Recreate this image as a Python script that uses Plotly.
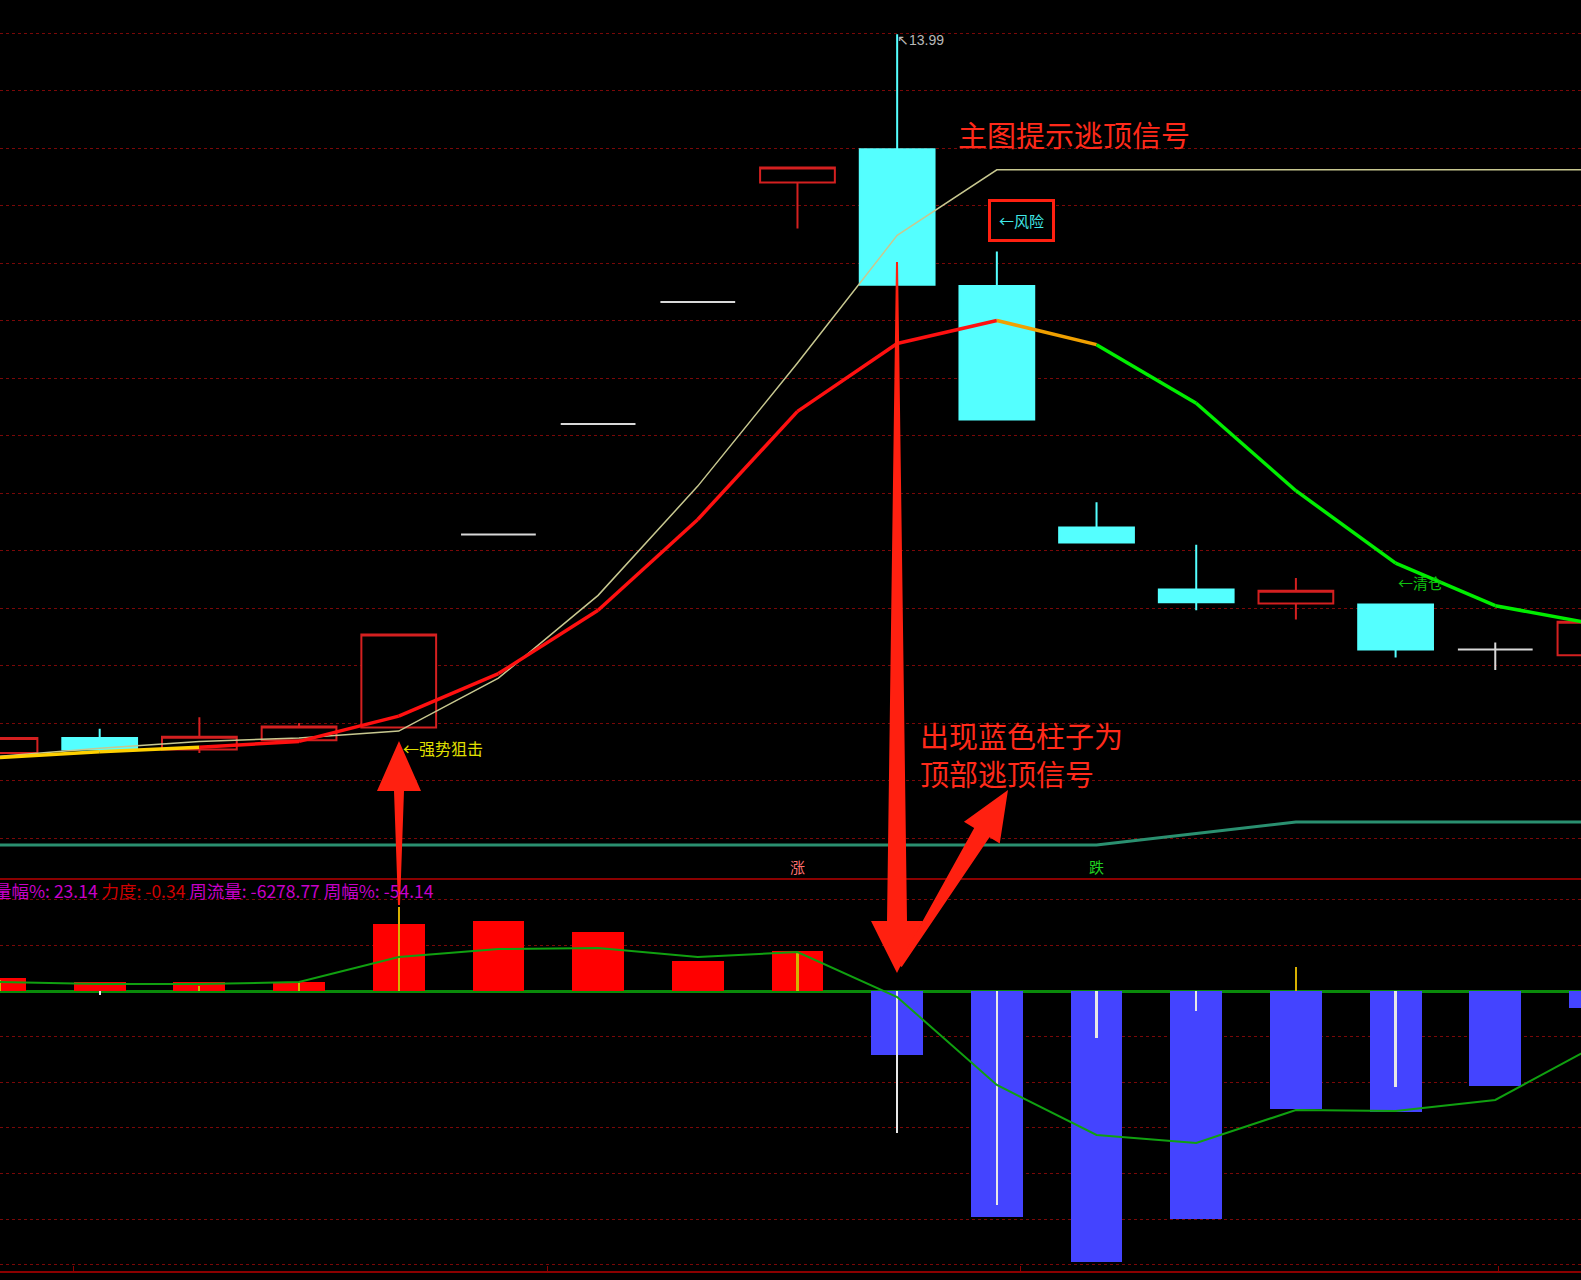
import math
import plotly.graph_objects as go

# K-line data (index = bar number, price units)
bar_idx = list(range(17))
opens = [7.74, 7.87, 7.77, 7.85, 7.96, 9.64, 10.60, 11.66, 12.70, 12.99, 11.80, 9.70, 9.16, 9.04, 9.03, 8.64, 8.59]
highs = [7.87, 7.95, 8.05, 8.00, 8.77, 9.64, 10.60, 11.66, 12.83, 13.99, 12.10, 9.92, 9.55, 9.26, 9.04, 8.70, 8.88]
lows = [7.74, 7.75, 7.74, 7.85, 7.96, 9.64, 10.60, 11.66, 12.30, 11.81, 10.64, 9.57, 8.98, 8.90, 8.57, 8.46, 8.59]
closes = [7.87, 7.77, 7.88, 7.97, 8.77, 9.64, 10.60, 11.66, 12.83, 11.81, 10.64, 9.57, 9.05, 9.15, 8.64, 8.64, 8.88]

# indicator lines on the main chart
trend_line = [7.70, 7.75, 7.79, 7.84, 8.06, 8.43, 8.98, 9.77, 10.71, 11.30, 11.50, 11.29, 10.78, 10.02, 9.39, 9.02, 8.86]
trend_colors = ["#ffd000", "#ffd000", "#ff1010", "#ff1010", "#ff1010", "#ff1010", "#ff1010", "#ff1010",
                "#ff1010", "#ff1010", "#f0a000", "#00ee00", "#00ee00", "#00ee00", "#00ee00", "#00ee00"]
slow_line = [7.71, 7.78, 7.84, 7.87, 7.93, 8.39, 9.11, 10.06, 11.13, 12.24, 12.81, 12.81, 12.81, 12.81, 12.81, 12.81, 12.81]
base_line = [6.94, 6.94, 6.94, 6.94, 6.94, 6.94, 6.94, 6.94, 6.94, 6.94, 6.94, 6.94, 7.04, 7.14, 7.14, 7.14, 7.14]

# sub chart (flow)
flow_bars = [285, 197, 197, 197, 1469, 1535, 1294, 658, 877, -1404, -4956, -5943, -5000, -2588, -2654, -2083, -373]
flow_ticks = [240, -90, 100, 200, 1842, 0, 0, 0, 855, -3114, -4693, -1031, -439, 526, -2105, 0, 0]
flow_ma = [197, 153, 153, 197, 746, 921, 943, 746, 855, -132, -2061, -3158, -3333, -2610, -2632, -2390, -1206]

W, H = 1581, 1280
GRID = "#7a0808"
CJK = "Noto Sans CJK SC"


def paper(x, y):
    return x / W, 1 - y / H


def arrow_path(x0, y0, x1, y1, w0, w1, hw, hl):
    """Tapered arrow polygon, pixel coords in, paper path out."""
    L = math.hypot(x1 - x0, y1 - y0)
    ux, uy = (x1 - x0) / L, (y1 - y0) / L
    nx, ny = -uy, ux
    bx, by = x1 - ux * hl, y1 - uy * hl
    pts = [
        (x0 + nx * w0, y0 + ny * w0), (bx + nx * w1, by + ny * w1), (bx + nx * hw, by + ny * hw),
        (x1, y1),
        (bx - nx * hw, by - ny * hw), (bx - nx * w1, by - ny * w1), (x0 - nx * w0, y0 - ny * w0),
    ]
    pp = [paper(x, y) for x, y in pts]
    return "M " + " L ".join(f"{a:.5f},{b:.5f}" for a, b in pp) + " Z"


def pick(cond):
    sel = [i for i in bar_idx if cond(i)]
    return dict(x=sel, open=[opens[i] for i in sel], high=[highs[i] for i in sel],
                low=[lows[i] for i in sel], close=[closes[i] for i in sel])


fig = go.Figure()

# candles: up hollow red, down cyan, flat white
for cond, col, fill in [
    (lambda i: closes[i] > opens[i], "#d42020", "#000000"),
    (lambda i: closes[i] < opens[i], "#54ffff", "#54ffff"),
    (lambda i: closes[i] == opens[i], "#d8d8d8", "#d8d8d8"),
]:
    d = pick(cond)
    fig.add_trace(go.Candlestick(
        **d, xaxis="x", yaxis="y",
        increasing=dict(line=dict(color=col, width=2), fillcolor=fill),
        decreasing=dict(line=dict(color=col, width=2), fillcolor=fill),
        whiskerwidth=0, hoverinfo="skip",
    ))

fig.add_trace(go.Scatter(x=bar_idx, y=slow_line, mode="lines", line=dict(color="#c8c890", width=1.5),
                         xaxis="x", yaxis="y", hoverinfo="skip"))
for k in range(len(bar_idx) - 1):
    fig.add_trace(go.Scatter(x=bar_idx[k:k + 2], y=trend_line[k:k + 2], mode="lines",
                             line=dict(color=trend_colors[k], width=3.5), xaxis="x", yaxis="y",
                             hoverinfo="skip"))
fig.add_trace(go.Scatter(x=bar_idx, y=base_line, mode="lines", line=dict(color="#2a9070", width=3),
                         xaxis="x", yaxis="y", hoverinfo="skip"))

# sub chart
fig.add_trace(go.Bar(x=bar_idx, y=flow_bars, width=0.52, xaxis="x2", yaxis="y2",
                     marker=dict(color=["#ff0000" if v > 0 else "#4444ff" for v in flow_bars], line_width=0),
                     hoverinfo="skip"))
fig.add_trace(go.Bar(x=bar_idx, y=flow_ticks, width=0.022, xaxis="x2", yaxis="y2",
                     marker=dict(color=["#d8b000" if v > 0 else "#e8e8e8" for v in flow_ticks], line_width=0),
                     hoverinfo="skip"))
fig.add_trace(go.Scatter(x=bar_idx, y=flow_ma, mode="lines", line=dict(color="#10a010", width=2),
                         xaxis="x2", yaxis="y2", hoverinfo="skip"))

# arrows
shapes = []
for args in [
    (399, 905, 399, 741, 1, 5, 22, 50),
    (897, 262, 897, 973, 1, 10, 26, 52),
    (900, 966, 1008, 790, 2, 9, 21, 50),
]:
    shapes.append(dict(type="path", xref="paper", yref="paper", path=arrow_path(*args),
                       fillcolor="#ff2010", line=dict(width=0), layer="above"))

annotations = [
    dict(x=9, y=13.99, xref="x", yref="y", text="↖13.99", showarrow=False, xanchor="left", yanchor="middle",
         xshift=-2, yshift=-6, font=dict(family="Liberation Sans", size=14, color="#b8b8b8")),
    dict(x=paper(956, 0)[0], y=paper(0, 134)[1], xref="paper", yref="paper", text="主图提示逃顶信号",
         showarrow=False, xanchor="left", yanchor="middle", font=dict(family=CJK, size=29, color="#ff2a1a")),
    dict(x=10.25, y=12.37, xref="x", yref="y", text="←风险", showarrow=False,
         font=dict(family=CJK, size=15, color="#40e8e8"), bordercolor="#ff2010", borderwidth=3,
         borderpad=8, bgcolor="#000000"),
    dict(x=4.02, y=7.78, xref="x", yref="y", text="←强势狙击", showarrow=False, xanchor="left",
         yanchor="middle", font=dict(family=CJK, size=16, color="#e0e000")),
    dict(x=14.0, y=9.22, xref="x", yref="y", text="←清仓", showarrow=False, xanchor="left",
         yanchor="middle", font=dict(family=CJK, size=15, color="#10c010")),
    dict(x=paper(918, 0)[0], y=paper(0, 754)[1], xref="paper", yref="paper",
         text="出现蓝色柱子为<br>顶部逃顶信号", showarrow=False, xanchor="left", yanchor="middle", align="left",
         font=dict(family=CJK, size=29, color="#ff2a1a")),
    dict(x=8, y=6.75, xref="x", yref="y", text="涨", showarrow=False,
         font=dict(family=CJK, size=15, color="#ff7070")),
    dict(x=11, y=6.75, xref="x", yref="y", text="跌", showarrow=False,
         font=dict(family=CJK, size=15, color="#20d020")),
    dict(x=paper(-8, 0)[0], y=paper(0, 890)[1], xref="paper", yref="paper", showarrow=False,
         xanchor="left", yanchor="middle",
         text="<span style='color:#c800c8'>量幅%: 23.14 </span><span style='color:#d00000'>力度: -0.34 </span>"
              "<span style='color:#c800c8'>周流量: -6278.77 周幅%: -54.14</span>",
         font=dict(family=CJK, size=17.5)),
]

top_lo, top_hi = 14 - (878 - 33) / 115, 14 + 33 / 115
sub_hi, sub_lo = (991 - 878) / 45.6 * 1000, -(1271 - 991) / 45.6 * 1000

fig.update_layout(
    width=W, height=H,
    paper_bgcolor="#000000", plot_bgcolor="#000000",
    margin=dict(l=0, r=0, t=0, b=0),
    showlegend=False, barmode="overlay", boxgap=0.25, boxgroupgap=0, bargap=0,
    xaxis=dict(range=[0, 15.86], domain=[0, 1], anchor="y", showgrid=False, zeroline=False,
               showticklabels=False, showline=True, linecolor="#8b0000", linewidth=2,
               rangeslider=dict(visible=False)),
    yaxis=dict(range=[top_lo, top_hi], domain=[1 - 878 / H, 1], tick0=0, dtick=0.5,
               showticklabels=False, gridcolor=GRID, griddash="dot", gridwidth=1, zeroline=False),
    xaxis2=dict(range=[0, 15.86], domain=[0, 1], anchor="y2", matches="x", showgrid=False, zeroline=False,
                showticklabels=False, showline=True, linecolor="#8b0000", linewidth=2,
                ticks="inside", ticklen=5, tickcolor="#8b0000", tickvals=[0.74, 5.49, 10.24, 15.03]),
    yaxis2=dict(range=[sub_lo, sub_hi], domain=[1 - 1271 / H, 1 - 878 / H], tick0=0, dtick=1000,
                showticklabels=False, gridcolor=GRID, griddash="dot", gridwidth=1,
                zeroline=True, zerolinecolor="#0a8a0a", zerolinewidth=3),
    shapes=shapes,
    annotations=annotations,
)

fig.write_html("out.html", config={"displayModeBar": False},
               post_script="document.body.style.margin='0';document.body.style.background='#000';")
